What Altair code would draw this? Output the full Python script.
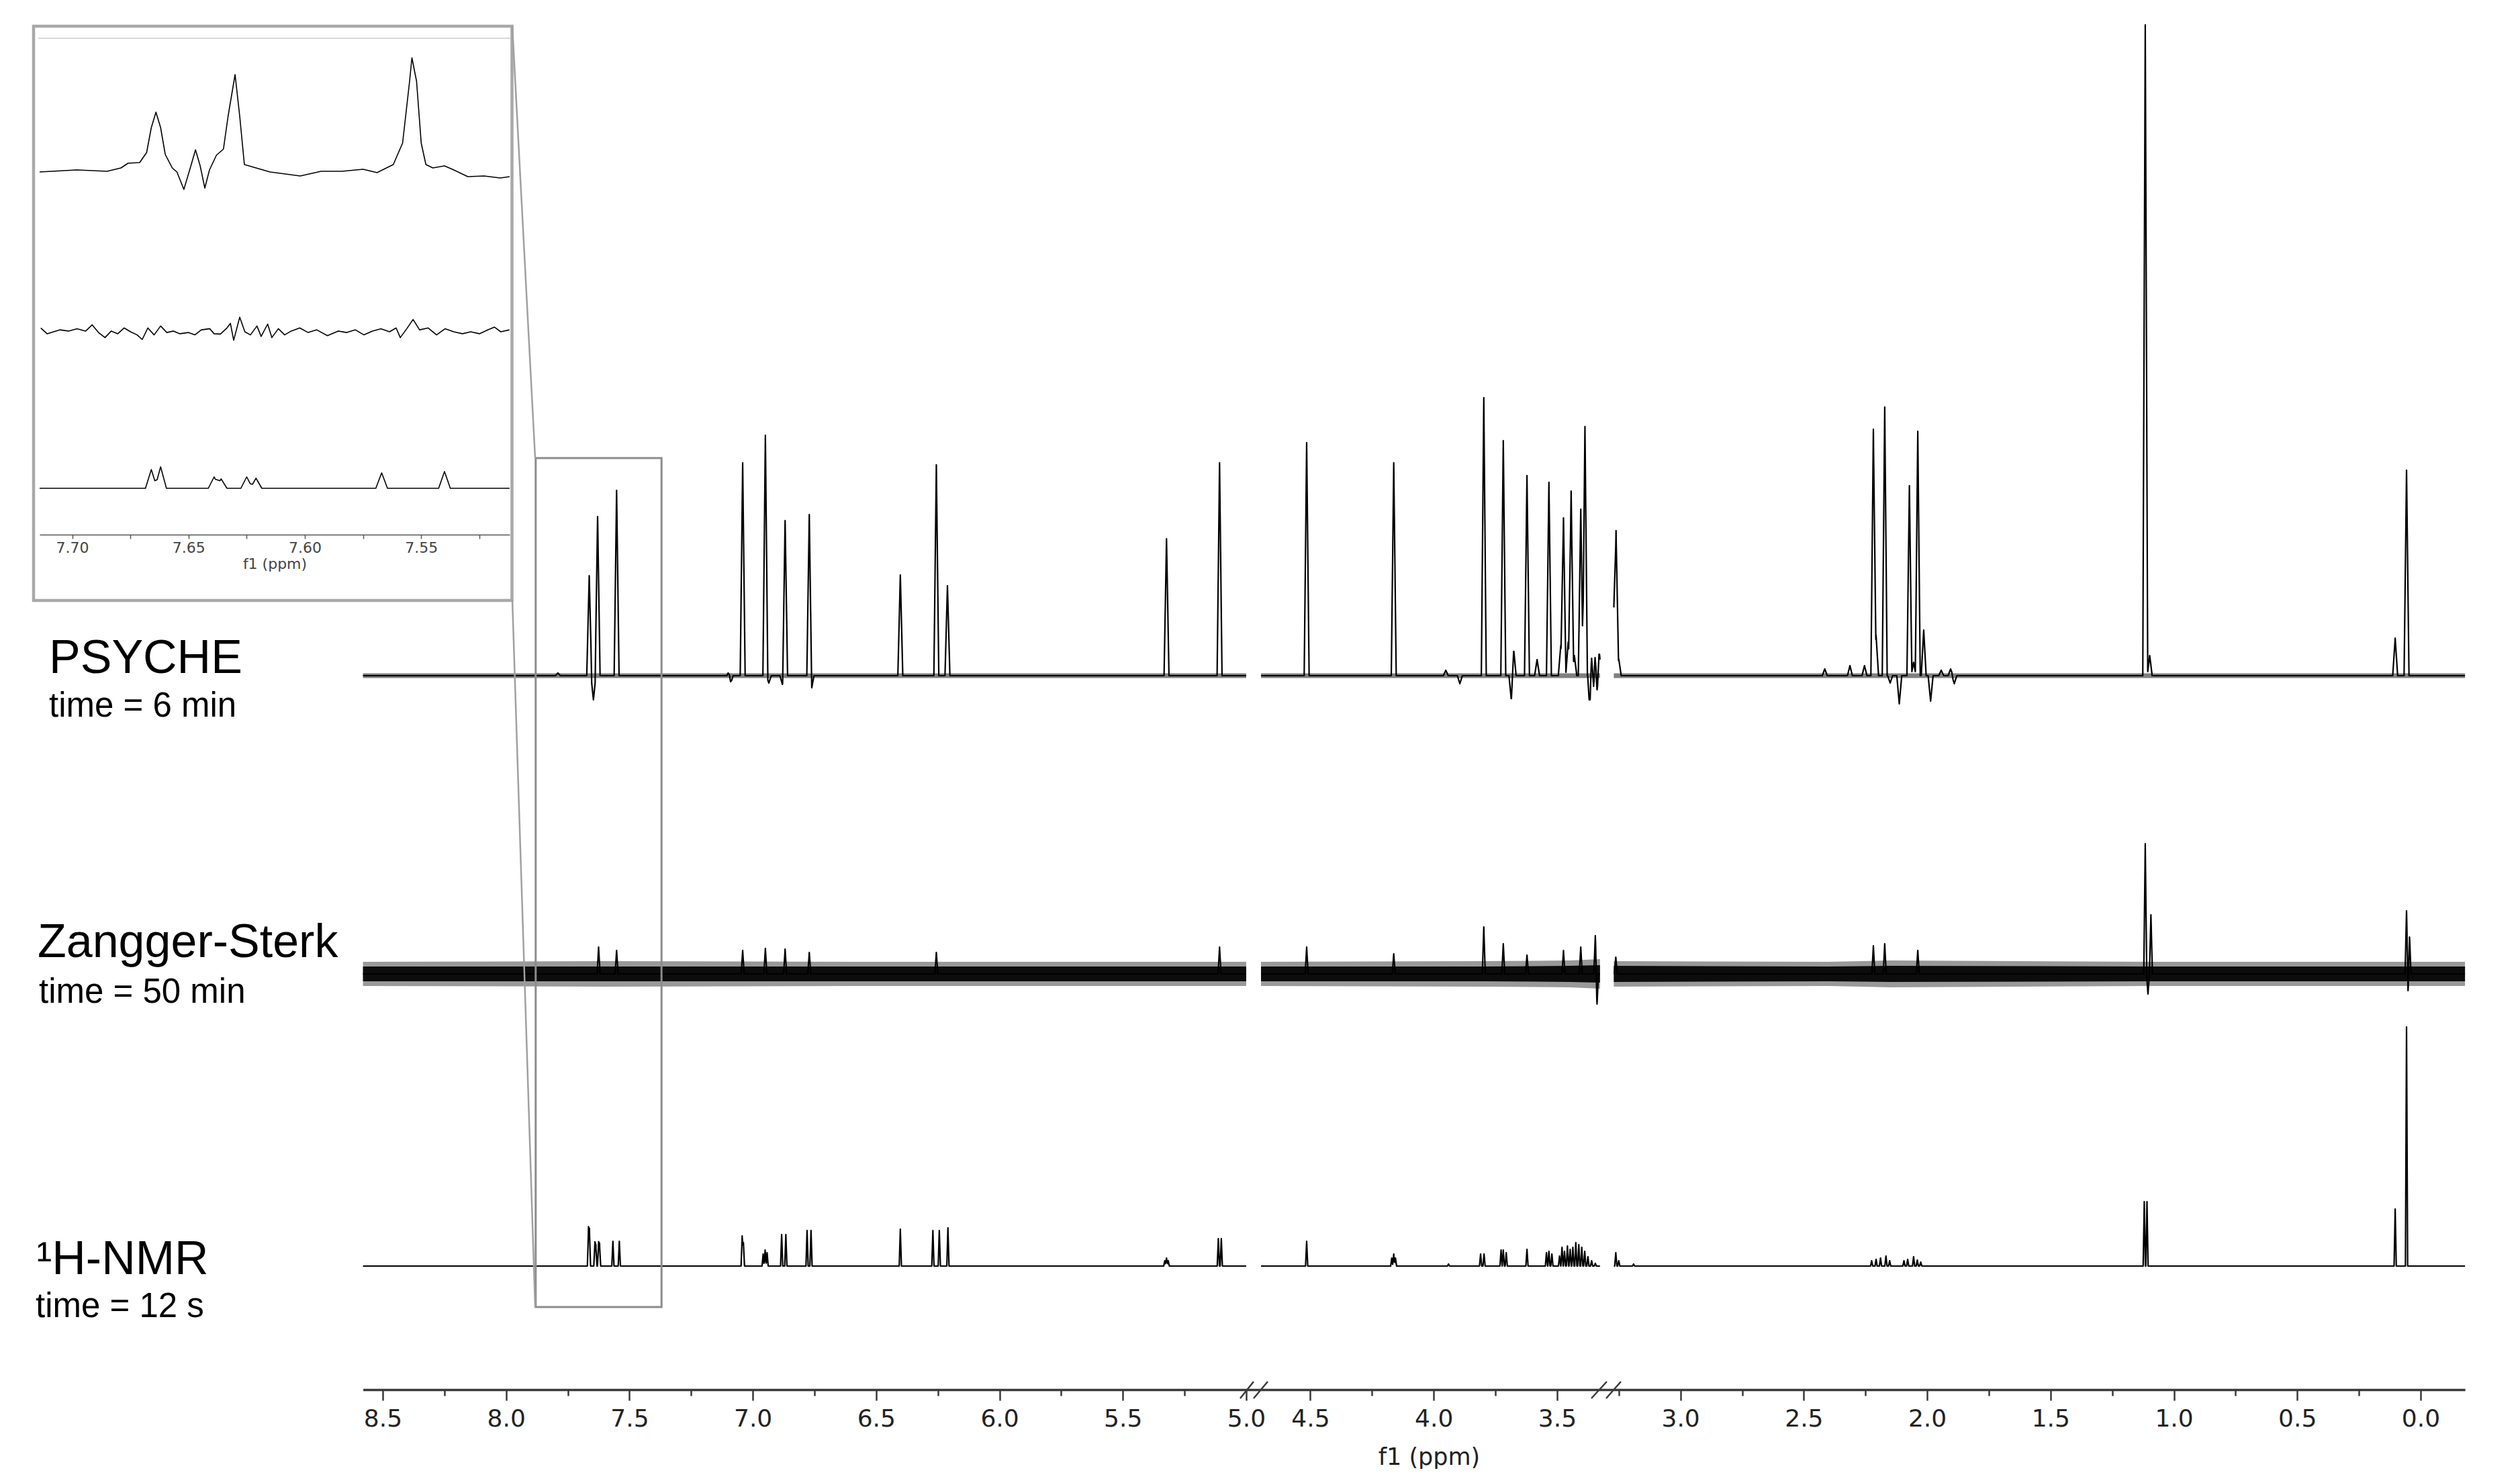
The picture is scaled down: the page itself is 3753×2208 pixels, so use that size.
import altair as alt
import pandas as pd

# ------------------------------------------------------------------
# Data
# ------------------------------------------------------------------
# Broken ppm axis: left segment and right segment (ppm)
SEG_A_DOMAIN = [4.94, 8.58]
SEG_B_DOMAIN = [-0.18, 4.70]
INSET_DOMAIN = [7.512, 7.714]

# where each trace is drawn (start ppm, end ppm); gap 5.00-4.70 and 3.326-3.270
PIECES = {"A": (8.58, 5.00), "B1": (4.70, 3.326), "B2": (3.270, -0.18)}

# tick values of the axes
TICKS_A_MAJOR = [8.5, 8.0, 7.5, 7.0, 6.5, 6.0, 5.5, 5.0]
TICKS_A_MINOR = [8.25, 7.75, 7.25, 6.75, 6.25, 5.75, 5.25]
TICKS_B_MAJOR = [4.5, 4.0, 3.5, 3.0, 2.5, 2.0, 1.5, 1.0, 0.5, 0.0]
TICKS_B_MINOR = [4.25, 3.75, 3.25, 2.75, 2.25, 1.75, 1.25, 0.75, 0.25]
TICKS_INSET = [7.70, 7.675, 7.65, 7.625, 7.60, 7.575, 7.55, 7.525]

# PSYCHE spectrum: peak positions (ppm) and heights (a.u., negative = dips)
psyche_ppm = [7.79, 7.663, 7.646, 7.629, 7.552, 7.095, 7.090, 7.041, 6.949, 6.935, 6.880,
              6.869, 6.771, 6.762, 6.402, 6.256, 6.211, 5.323, 5.108,
              4.515, 4.162, 3.951, 3.894, 3.797, 3.718, 3.685, 3.676, 3.622, 3.581, 3.533,
              3.485, 3.474, 3.455, 3.443, 3.430, 3.404, 3.387, 3.366, 3.360, 3.352, 3.346,
              3.338, 3.330, 3.272, 3.261, 3.250, 2.415, 2.313, 2.254, 2.218, 2.207, 2.172,
              2.150, 2.113, 2.072, 2.055, 2.038, 2.014, 1.986, 1.943, 1.905, 1.890, 1.116,
              1.098, 0.103, 0.057]
psyche_h = [4, 149, -36, 237, 276, 8, -13, 317, 358, -11, -13,
            231, 242, -20, 150, 314, 134, 204, 317,
            347, 317, 8, -12, 414, 350, -38, 40, 298, 24, 288,
            45, 235, 50, 275, 30, 248, 371, -60, 60, -50, 55,
            -40, 40, 100, 216, 25, 10, 15, 15, 367, 60, 400,
            -11, -42, 283, 20, 364, 68, -38, 8, 10, -12, 969,
            30, 56, 306]

# Zangger-Sterk spectrum: peaks sticking out of the noise
zs_ppm = [7.625, 7.552, 7.041, 6.949, 6.869, 6.771, 6.256, 5.108, 4.515, 4.162, 3.797,
          3.718, 3.622, 3.474, 3.404, 3.345, 3.338, 3.262, 2.218, 2.172, 2.038, 1.116,
          1.105, 1.093, 0.057, 0.050, 0.045]
zs_h = [40, 35, 35, 38, 37, 32, 32, 40, 40, 30, 70,
        45, 28, 35, 40, 57, -45, 25, 42, 45, 35, 194,
        -30, 88, 94, -30, 60]
# Zangger-Sterk noise envelope (half amplitude, a.u.)
zs_noise_piece = ["A", "A", "A", "A", "B1", "B1", "B1", "B1", "B2", "B2", "B2", "B2", "B2"]
zs_noise_ppm = [8.58, 7.6, 6.5, 5.0, 4.70, 3.8, 3.45, 3.326, 3.27, 2.4, 2.15, 1.1, -0.18]
zs_core_amp = [11, 11, 11, 11, 11, 11, 12, 13, 12, 11, 12, 11, 11]
zs_outer_amp = [18, 19, 18, 18, 18, 19, 20, 22, 19, 18, 20, 18, 18]
# PSYCHE baseline noise half amplitude (a.u.)
psyche_noise_amp = 3.5

# 1H-NMR spectrum
h1_ppm = [7.666, 7.662, 7.640, 7.636, 7.625, 7.621, 7.567, 7.541, 7.043, 7.038, 6.958,
          6.950, 6.942, 6.883, 6.866, 6.780, 6.764, 6.402, 6.270, 6.244, 6.209, 5.330,
          5.323, 5.316, 5.113, 5.101,
          4.515, 4.170, 4.162, 4.155, 3.940, 3.810, 3.796, 3.727, 3.718, 3.706, 3.622,
          3.543, 3.533, 3.521, 3.490, 3.480, 3.470, 3.458, 3.447, 3.436, 3.424, 3.412,
          3.400, 3.388, 3.375, 3.360, 3.345, 3.262, 3.250, 3.190,
          2.225, 2.207, 2.189, 2.167, 2.152, 2.094, 2.079, 2.055, 2.040, 2.026, 1.120,
          1.109, 0.103, 0.057]
h1_h = [53, 50, 33, 28, 33, 30, 37, 37, 45, 35, 18,
        24, 20, 47, 47, 53, 53, 55, 53, 53, 57, 8,
        12, 8, 41, 41,
        37, 12, 18, 12, 3, 18, 18, 24, 24, 20, 25,
        20, 22, 18, 15, 28, 22, 30, 25, 28, 35, 32,
        28, 22, 14, 8, 4, 20, 8, 3,
        8, 10, 12, 15, 8, 8, 10, 14, 9, 6, 96,
        96, 85, 356]

inset_psyche_ppm = [7.714, 7.698, 7.685, 7.679, 7.676, 7.671, 7.668, 7.666, 7.664, 7.662,
                    7.660, 7.657, 7.655, 7.652, 7.649, 7.647, 7.645, 7.643, 7.641, 7.638,
                    7.635, 7.633, 7.630, 7.628, 7.626, 7.622, 7.615, 7.602, 7.593, 7.584,
                    7.575, 7.569, 7.562, 7.558, 7.555, 7.554, 7.552, 7.550, 7.548, 7.545,
                    7.540, 7.536, 7.530, 7.523, 7.516, 7.512]
inset_psyche_val = [0, 3, 1, 6, 13, 14, 29, 66, 89, 66,
                    26, 6, 0, -26, 9, 33, 9, -24, 3, 25,
                    34, 83, 145, 83, 11, 7, 0, -6, 1, 1,
                    4, -1, 11, 43, 135, 170, 135, 43, 11, 6,
                    9, 3, -7, -6, -9, -7]
inset_zs_ppm = [7.7135, 7.7108, 7.7080, 7.7052, 7.7016, 7.6979, 7.6942, 7.6914, 7.6887,
                7.6859, 7.6832, 7.6804, 7.6777, 7.6749, 7.6721, 7.6699, 7.6675, 7.6648,
                7.6620, 7.6593, 7.6565, 7.6537, 7.6501, 7.6473, 7.6445, 7.6409, 7.6390,
                7.6363, 7.6335, 7.6320, 7.6306, 7.6280, 7.6258, 7.6234, 7.6206, 7.6188,
                7.6160, 7.6142, 7.6114, 7.6087, 7.6059, 7.6022, 7.5986, 7.5949, 7.5903,
                7.5857, 7.5820, 7.5783, 7.5746, 7.5710, 7.5673, 7.5636, 7.5608, 7.5590,
                7.5562, 7.5535, 7.5507, 7.5470, 7.5434, 7.5397, 7.5360, 7.5323, 7.5287,
                7.5250, 7.5213, 7.5185, 7.5158, 7.5121]
inset_zs_val = [5.7, -2.9, 0, 2.9, 1.1, 4.6, 1.1, 10.3, -1.1,
                -8.6, 1.1, -2.9, 5.7, 0, -4.6, -11.5, 5.7, -4.6,
                8.6, -1.1, 1.1, -2.9, -1.1, -4.6, 2.9, 4.6, -2.9,
                -3.4, 5.7, 12.6, -12.6, 21.8, 0, -4.6, 8.6, -6.9,
                11.5, -8.6, 4.6, -4.6, 1.1, 5.7, -1.1, 2.9, -5.7,
                1.1, -1.1, 2.9, -4.6, 1.1, 4.6, 0, 5.7, -8.6,
                4.6, 18.4, 2.9, 5.7, -4.6, 4.6, 0, -2.9, 0,
                -2.9, 2.9, 6.9, 0, 2.9]
# Inset: 1H-NMR lines
inset_h1_ppm = [7.666, 7.662, 7.639, 7.636, 7.625, 7.621, 7.567, 7.540]
inset_h1_h = [28, 32, 17, 14, 17, 15, 23, 25]

# box drawn around the zoomed region
ZOOM_BOX_PPM = [7.88, 7.37]

LABELS = [("PSYCHE", "time = 6 min"), ("Zangger-Sterk", "time = 50 min"),
          ("\u00b9H-NMR", "time = 12 s")]

# ------------------------------------------------------------------
# Layout / style (pixels)
# ------------------------------------------------------------------
W, H = 3720, 2061
RANGE_A = [1870.0, 532.6]
RANGE_B = [3663.1, 1870.0]
RANGE_INSET = [751.0, 51.0]
# vertical stacking offsets (a.u. == px on the shared y scale)
OFF_MAIN = {"PSYCHE": 1063, "ZS": 619, "1H": 184}
OFF_INSET = {"PSYCHE": 1813, "ZS": 1575, "1H": 1342}
BOX_Y = [1387, 123]
W_PSY, W_ZS, W_H1, W_INSET_H1 = 0.010, 0.006, 0.0045, 0.0025

FONT_AX = "DejaVu Sans"
FONT_LAB = "Liberation Sans"
AX_COLOR = "#3a3a3a"


def tri_profile(start, end, ppm, h, w):
    """Stick spectrum: each peak drawn as a narrow triangle of half-base w."""
    lo, hi = min(start, end), max(start, end)
    verts = {start, end}
    for p in ppm:
        for v in (p - w, p, p + w):
            if lo <= v <= hi:
                verts.add(round(v, 6))
    rows = []
    for v in sorted(verts, reverse=True):
        s = 0.0
        for p, hh in zip(ppm, h):
            d = abs(v - p)
            if d < w:
                s += hh * (1 - d / w)
        rows.append((v, s))
    return rows


# main traces
traces = {"PSYCHE": (psyche_ppm, psyche_h, W_PSY),
          "ZS": (zs_ppm, zs_h, W_ZS),
          "1H": (h1_ppm, h1_h, W_H1)}
rows = []
for tname, (pp, hh, w) in traces.items():
    for piece, (s, e) in PIECES.items():
        for v, val in tri_profile(s, e, pp, hh, w):
            rows.append({"ppm": v, "val": OFF_MAIN[tname] + val,
                         "grp": f"{tname}-{piece}", "seg": "A" if piece == "A" else "B"})
main_df = pd.DataFrame(rows)

# noise bands
band_rows = []
for piece, p, c, o in zip(zs_noise_piece, zs_noise_ppm, zs_core_amp, zs_outer_amp):
    band_rows.append({"ppm": p, "core_lo": OFF_MAIN["ZS"] - c, "core_hi": OFF_MAIN["ZS"] + c,
                      "out_lo": OFF_MAIN["ZS"] - o, "out_hi": OFF_MAIN["ZS"] + o,
                      "grp": piece, "seg": "A" if piece == "A" else "B"})
zs_band = pd.DataFrame(band_rows)
psy_rows = []
for piece, (s, e) in PIECES.items():
    for p in (s, e):
        psy_rows.append({"ppm": p, "lo": OFF_MAIN["PSYCHE"] - psyche_noise_amp,
                         "hi": OFF_MAIN["PSYCHE"] + psyche_noise_amp,
                         "grp": piece, "seg": "A" if piece == "A" else "B"})
psy_band = pd.DataFrame(psy_rows)

# inset traces
inset_rows = []
for p, v in zip(inset_psyche_ppm, inset_psyche_val):
    inset_rows.append({"ppm": p, "val": OFF_INSET["PSYCHE"] + v, "grp": "PSYCHE"})
for p, v in zip(inset_zs_ppm, inset_zs_val):
    inset_rows.append({"ppm": p, "val": OFF_INSET["ZS"] + v, "grp": "ZS"})
for p, v in tri_profile(INSET_DOMAIN[1], INSET_DOMAIN[0], inset_h1_ppm, inset_h1_h, W_INSET_H1):
    inset_rows.append({"ppm": p, "val": OFF_INSET["1H"] + v, "grp": "1H"})
inset_df = pd.DataFrame(inset_rows)

box_df = pd.DataFrame({"x1": [ZOOM_BOX_PPM[0]], "x2": [ZOOM_BOX_PPM[1]],
                       "y1": [BOX_Y[0]], "y2": [BOX_Y[1]]})

YS = alt.Scale(domain=[0, H], nice=False, zero=False)


def xscale(domain, rng):
    return alt.Scale(domain=domain, range=rng, nice=False, zero=False)


def major_axis(values, **extra):
    return alt.Axis(values=values, orient="bottom", grid=False, domainColor=AX_COLOR,
                    domainWidth=3.5, tickColor=AX_COLOR, tickWidth=2.5, tickSize=16,
                    format=".1f", labelFont=FONT_AX, labelFontSize=36,
                    labelColor="#222222", labelPadding=10, labelFlush=False,
                    labelOverlap=False, **extra)


def minor_axis(values):
    return alt.Axis(values=values, orient="bottom", grid=False, domain=False,
                    tickColor=AX_COLOR, tickWidth=2.5, tickSize=9, labels=False,
                    title=None)


layers = []
for seg, dom, rng, majors, minors in [("A", SEG_A_DOMAIN, RANGE_A, TICKS_A_MAJOR, TICKS_A_MINOR),
                                      ("B", SEG_B_DOMAIN, RANGE_B, TICKS_B_MAJOR, TICKS_B_MINOR)]:
    if seg == "A":
        axis_major = major_axis(majors, title=None)
    else:
        axis_major = major_axis(majors, title="f1 (ppm)", titleX=2120, titleY=111,
                                titleBaseline="alphabetic", titleAlign="center",
                                titleFont=FONT_AX, titleFontSize=35,
                                titleFontWeight="normal", titleColor="#222222")
    pband = alt.Chart(psy_band[psy_band.seg == seg]).mark_area(
        color="black", opacity=0.5).encode(
        x=alt.X("ppm:Q", scale=xscale(dom, rng), axis=minor_axis(minors)),
        y=alt.Y("lo:Q", scale=YS, axis=None), y2="hi:Q", detail="grp:N")
    zout = alt.Chart(zs_band[zs_band.seg == seg]).mark_area(
        color="black", opacity=0.4).encode(
        x=alt.X("ppm:Q", scale=xscale(dom, rng), axis=None),
        y=alt.Y("out_lo:Q", scale=YS, axis=None), y2="out_hi:Q", detail="grp:N")
    zcore = alt.Chart(zs_band[zs_band.seg == seg]).mark_area(
        color="black", opacity=0.92).encode(
        x=alt.X("ppm:Q", scale=xscale(dom, rng), axis=None),
        y=alt.Y("core_lo:Q", scale=YS, axis=None), y2="core_hi:Q", detail="grp:N")
    lines = alt.Chart(main_df[main_df.seg == seg]).mark_line(
        color="black", strokeWidth=2.2, strokeJoin="round").encode(
        x=alt.X("ppm:Q", scale=xscale(dom, rng), axis=axis_major),
        y=alt.Y("val:Q", scale=YS, axis=None),
        detail="grp:N")
    layers += [pband, zout, zcore, lines]
    if seg == "A":
        box = alt.Chart(box_df).mark_rect(fillOpacity=0, stroke="#8c8c8c", strokeWidth=3).encode(
            x=alt.X("x1:Q", scale=xscale(dom, rng), axis=None), x2="x2:Q",
            y=alt.Y("y1:Q", scale=YS, axis=None), y2="y2:Q")
        layers.append(box)

axis_i = alt.Axis(values=TICKS_INSET, orient="bottom", offset=-1273, grid=False,
                  domainColor="#555555", domainWidth=1.5, tickColor="#555555",
                  tickWidth=1.5, tickSize=6,
                  labelExpr="round(datum.value*1000) % 50 == 0 ? format(datum.value, '.2f') : ''",
                  labelFont=FONT_AX, labelFontSize=22, labelColor="#444444",
                  labelPadding=3, labelFlush=False, labelOverlap=False,
                  title="f1 (ppm)", titleFont=FONT_AX, titleFontSize=22,
                  titleFontWeight="normal", titleColor="#444444", titlePadding=3)
inset = alt.Chart(inset_df).mark_line(color="black", strokeWidth=1.6, strokeJoin="round").encode(
    x=alt.X("ppm:Q", scale=xscale(INSET_DOMAIN, RANGE_INSET), axis=axis_i),
    y=alt.Y("val:Q", scale=YS, axis=None),
    detail="grp:N")
layers.append(inset)

one = pd.DataFrame({"k": [0]})


def rule(x1, y1, x2, y2, color, width):
    return alt.Chart(one).mark_rule(color=color, strokeWidth=width).encode(
        x=alt.value(x1), y=alt.value(y1), x2=alt.value(x2), y2=alt.value(y2))


layers += [
    alt.Chart(one).mark_rect(fillOpacity=0, stroke="#a8a8a8", strokeWidth=4.5).encode(
        x=alt.value(42), x2=alt.value(754.5), y=alt.value(31), y2=alt.value(886)),
    rule(49, 49, 752, 49, "#cccccc", 1.5),
    rule(755, 31, 789, 674, "#a0a0a0", 2.5),
    rule(755, 885, 789, 1938, "#a0a0a0", 2.5),
    rule(1839, 2074, 1859, 2049, AX_COLOR, 2.5),
    rule(1859, 2074, 1880, 2049, AX_COLOR, 2.5),
    rule(2362, 2074, 2385, 2049, AX_COLOR, 2.5),
    rule(2384, 2074, 2406, 2049, AX_COLOR, 2.5),
]

label_pos = [((65, 994), (65, 1059)), ((48, 1417), (50, 1485)), ((46, 1889), (45, 1953))]
for (big, small), ((bx, by), (sx, sy)) in zip(LABELS, label_pos):
    layers.append(alt.Chart(one).mark_text(
        text=big, font=FONT_LAB, fontSize=70, align="left", baseline="alphabetic",
        color="black").encode(x=alt.value(bx), y=alt.value(by)))
    layers.append(alt.Chart(one).mark_text(
        text=small, font=FONT_LAB, fontSize=51, align="left", baseline="alphabetic",
        color="black").encode(x=alt.value(sx), y=alt.value(sy)))

chart = alt.layer(*layers).resolve_scale(
    x="independent").resolve_axis(x="independent").properties(
    width=W, height=H, padding=0, background="white").configure_view(strokeWidth=0)

chart.save("out.html", embed_options={"renderer": "svg", "actions": False})
